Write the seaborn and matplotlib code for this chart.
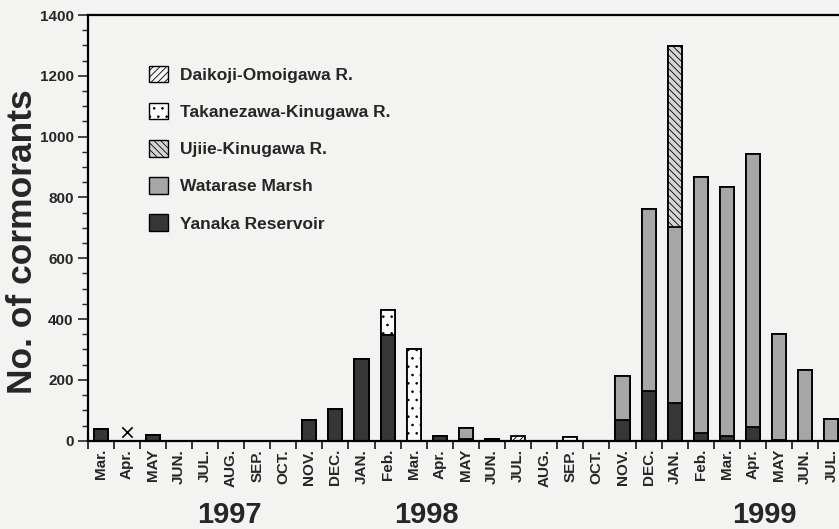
import matplotlib
matplotlib.use("Agg")
import matplotlib.pyplot as plt
import seaborn as sns
import numpy as np
from matplotlib.patches import Patch
from matplotlib.ticker import MultipleLocator, FixedLocator
import matplotlib.transforms as mtransforms

# months from Mar. 1997 to JUL. 1999
months = ["Mar.", "Apr.", "MAY", "JUN.", "JUL.", "AUG.", "SEP.", "OCT.", "NOV.", "DEC.", "JAN.", "Feb.",
          "Mar.", "Apr.", "MAY", "JUN.", "JUL.", "AUG.", "SEP.", "OCT.", "NOV.", "DEC.", "JAN.", "Feb.",
          "Mar.", "Apr.", "MAY", "JUN.", "JUL."]

yanaka     = [40, 0, 20, 0, 0, 0, 0, 0, 67, 105, 270, 347,
              0, 16, 6, 5, 0, 0, 0, 0, 68, 165, 123, 26,
              16, 46, 3, 0, 0]
watarase   = [0, 0, 0, 0, 0, 0, 0, 0, 0, 0, 0, 0,
              0, 0, 37, 0, 0, 0, 0, 0, 144, 596, 579, 842,
              817, 896, 347, 234, 73]
ujiie      = [0, 0, 0, 0, 0, 0, 0, 0, 0, 0, 0, 0,
              0, 0, 0, 0, 0, 0, 0, 0, 0, 0, 595, 0,
              0, 0, 0, 0, 0]
takanezawa = [0, 0, 0, 0, 0, 0, 0, 0, 0, 0, 0, 82,
              301, 0, 0, 0, 0, 0, 11, 0, 0, 0, 0, 0,
              0, 0, 0, 0, 0]
daikoji    = [0, 0, 0, 0, 0, 0, 0, 0, 0, 0, 0, 0,
              0, 0, 0, 0, 16, 0, 0, 0, 0, 0, 0, 0,
              0, 0, 0, 0, 0]

# month with no survey (marked with x)
nodata_idx = [1]
nodata_y = [30]

years = ["1997", "1998", "1999"]
year_pos = [4.95, 12.5, 25.45]

sns.set_style("ticks")
plt.rcParams["font.family"] = ["Liberation Sans", "DejaVu Sans"]
plt.rcParams["font.weight"] = "bold"
plt.rcParams["hatch.linewidth"] = 0.6

bg = "#f3f3f1"
fig = plt.figure(figsize=(8.39, 5.29), dpi=100, facecolor=bg)
ax = fig.add_axes([0.1043, 0.1669, 0.9021, 0.8047], facecolor=bg)

idx = np.arange(len(months))
layers = [("Yanaka Reservoir", yanaka, "#363636", None),
          ("Watarase Marsh", watarase, "#a6a6a6", None),
          ("Ujiie-Kinugawa R.", ujiie, "#d4d4d4", "\\\\\\\\\\"),
          ("Takanezawa-Kinugawa R.", takanezawa, "#fbfbfb", ".."),
          ("Daikoji-Omoigawa R.", daikoji, "#f4f4f4", "/////")]

# stacked: draw cumulative totals, top layer first
cum = np.cumsum([np.array(l[1]) for l in layers], axis=0)
for k in range(len(layers) - 1, -1, -1):
    name, vals, col, hatch = layers[k]
    sns.barplot(x=idx, y=cum[k], ax=ax, color=col, saturation=1, width=0.54,
                edgecolor="black", linewidth=1.3, hatch=hatch, zorder=2)

sns.scatterplot(x=nodata_idx, y=nodata_y, ax=ax, marker="x", s=55, color="black",
                linewidth=1.2, zorder=3)

ax.set_xlim(-0.5, len(months) - 0.5)
ax.set_ylim(0, 1400)
ax.yaxis.set_major_locator(MultipleLocator(200))
ax.yaxis.set_minor_locator(MultipleLocator(50))
ax.xaxis.set_major_locator(FixedLocator(idx))
ax.xaxis.set_minor_locator(FixedLocator(idx - 0.5))
ax.set_xticklabels(months, rotation=90, fontsize=11, fontweight="bold")
ax.tick_params(axis="x", which="major", length=0, pad=6)
ax.tick_params(axis="x", which="minor", length=6, width=1.3, direction="out")
ax.tick_params(axis="y", which="major", length=7, width=1.2, labelsize=11, pad=3)
ax.tick_params(axis="y", which="minor", length=4, width=1.0)
ax.set_xlabel("")

for s in ["left", "bottom", "top"]:
    ax.spines[s].set_linewidth(1.6)
    ax.spines[s].set_color("black")
ax.spines["right"].set_visible(False)

ax.set_ylabel("No. of cormorants", fontsize=25.5, fontweight="bold")
ax.yaxis.set_label_coords(-0.064, 0.467)

trans = mtransforms.blended_transform_factory(ax.transData, fig.transFigure)
for yr, xp in zip(years, year_pos):
    ax.text(xp, 0.027, yr, transform=trans, ha="center", va="center",
            fontsize=21, fontweight="bold")

handles = [Patch(facecolor=l[2], edgecolor="black", hatch=l[3], linewidth=1.0, label=l[0])
           for l in layers[::-1]]
ax.legend(handles=handles, loc="upper left", bbox_to_anchor=(0.06, 0.918), frameon=False,
          prop={"size": 12.5, "weight": "bold"}, handlelength=1.1, handleheight=1.1,
          handletextpad=0.7, labelspacing=1.15)

fig.savefig("out.png", dpi=100, facecolor=bg)
